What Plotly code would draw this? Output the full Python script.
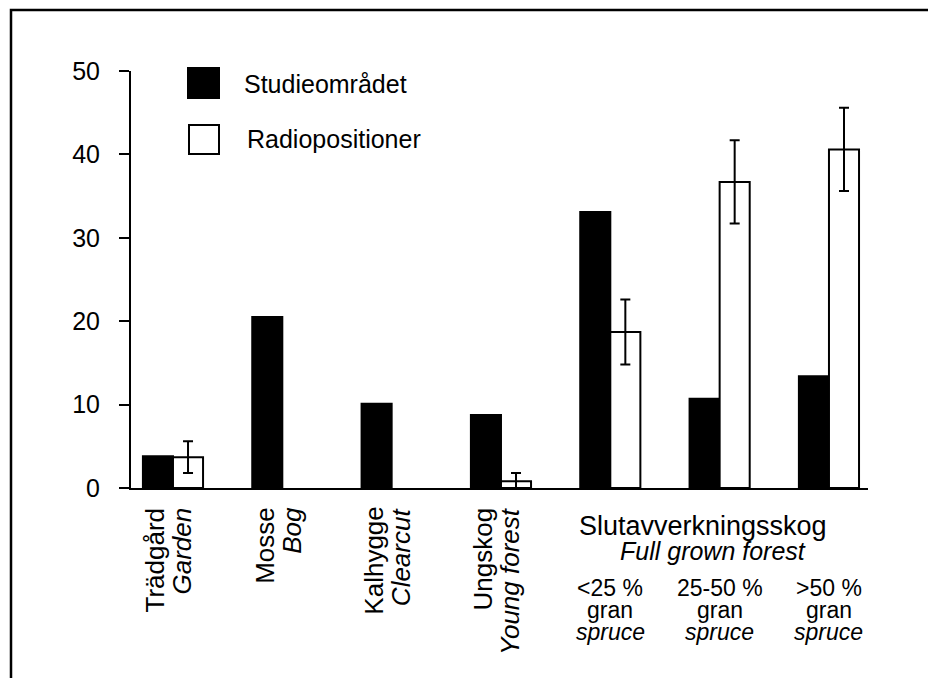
import plotly.graph_objects as go

# ---------------- data ----------------
series_names = ["Studieområdet", "Radiopositioner"]
study_area = [3.8, 20.5, 10.1, 8.75, 33.1, 10.7, 13.4]
radio_pos = [3.7, None, None, 0.8, 18.7, 36.7, 40.6]
radio_err_plus = [1.9, None, None, 1.0, 3.9, 5.0, 5.0]
radio_err_minus = [1.9, None, None, 0.8, 3.9, 5.0, 5.0]

rot_labels_sv = ["Trädgård", "Mosse", "Kalhygge", "Ungskog"]
rot_labels_en = ["Garden", "Bog", "Clearcut", "Young forest"]
forest_header_sv = "Slutavverkningsskog"
forest_header_en = "Full grown forest"
forest_shares = ["<25 %", "25-50 %", ">50 %"]
spruce_sv = "gran"
spruce_en = "spruce"
y_ticks = [0, 10, 20, 30, 40, 50]

x = list(range(len(study_area)))
FONT = "Liberation Sans, Arial, sans-serif"
FS = 25

# page body has an 8 px margin: all pixel targets below are given in screen px
OFF = 8
W, H = 936 - OFF, 678 - OFF
L, T = 131 - OFF, 71 - OFF
R = W - (868 - OFF)
B = H - (488 - OFF)
pw, ph = W - L - R, H - T - B


def px(xs):
    return (xs - OFF - L) / pw


def py(ys):
    return (H - B - (ys - OFF)) / ph


fig = go.Figure()
fig.add_trace(go.Bar(
    x=x, y=study_area, name=series_names[0],
    marker=dict(color="black", line=dict(color="black", width=2)),
))
fig.add_trace(go.Bar(
    x=x, y=radio_pos, name=series_names[1],
    marker=dict(color="white", line=dict(color="black", width=2)),
    error_y=dict(type="data", symmetric=False, array=radio_err_plus,
                 arrayminus=radio_err_minus, color="black", thickness=2, width=5),
))

ann = []
n_rot = len(rot_labels_sv)
for i in range(n_rot):
    ann.append(dict(x=x[i], y=0, xref="x", yref="paper", text=rot_labels_sv[i],
                    textangle=-90, xanchor="center", yanchor="top",
                    xshift=-18, yshift=-17, showarrow=False,
                    font=dict(family=FONT, size=26, color="black")))
    ann.append(dict(x=x[i], y=0, xref="x", yref="paper", text="<i>" + rot_labels_en[i] + "</i>",
                    textangle=-90, xanchor="center", yanchor="top",
                    xshift=9, yshift=-17, showarrow=False,
                    font=dict(family=FONT, size=26, color="black")))

forest_x = x[n_rot:]
mid = forest_x[len(forest_x) // 2]
ann.append(dict(x=mid, y=0, xref="x", yref="paper", text=forest_header_sv,
                xanchor="center", yanchor="middle", xshift=-17, yshift=-(526 - 488),
                showarrow=False, font=dict(family=FONT, size=27, color="black")))
ann.append(dict(x=mid, y=0, xref="x", yref="paper", text="<i>" + forest_header_en + "</i>",
                xanchor="center", yanchor="middle", xshift=-7, yshift=-(551 - 488),
                showarrow=False, font=dict(family=FONT, size=FS, color="black")))
for j, xi in enumerate(forest_x):
    for txt, yc in [(forest_shares[j], 588), (spruce_sv, 610), ("<i>" + spruce_en + "</i>", 632)]:
        ann.append(dict(x=xi, y=0, xref="x", yref="paper", text=txt,
                        xanchor="center", yanchor="middle", yshift=-(yc - 488),
                        showarrow=False, font=dict(family=FONT, size=23, color="black")))

frame_path = "M {:.5f},{:.5f} L {:.5f},{:.5f} L {:.5f},{:.5f}".format(
    px(11), py(700), px(11), py(10), px(936), py(10))

shapes = [
    dict(type="rect", xref="paper", yref="paper", x0=px(188), x1=px(219), y0=py(98), y1=py(68),
         fillcolor="black", line=dict(color="black", width=2)),
    dict(type="rect", xref="paper", yref="paper", x0=px(189), x1=px(219), y0=py(154), y1=py(125),
         fillcolor="white", line=dict(color="black", width=2)),
    # outer frame (top and left edges visible)
    dict(type="path", xref="paper", yref="paper", path=frame_path,
         line=dict(color="black", width=2.5)),
]
ann.append(dict(x=px(242), y=py(84), xref="paper", yref="paper", text=series_names[0],
                xanchor="left", yanchor="middle", showarrow=False,
                font=dict(family=FONT, size=FS, color="black")))
ann.append(dict(x=px(245), y=py(139), xref="paper", yref="paper", text=series_names[1],
                xanchor="left", yanchor="middle", showarrow=False,
                font=dict(family=FONT, size=FS, color="black")))

fig.update_layout(
    width=W, height=H,
    margin=dict(l=L, r=R, t=T, b=B, pad=0),
    paper_bgcolor="white", plot_bgcolor="white",
    barmode="group", bargap=0.45, bargroupgap=0,
    showlegend=False,
    annotations=ann, shapes=shapes,
    font=dict(family=FONT, size=FS, color="black"),
    xaxis=dict(range=[-0.384, 6.357], showline=True, linecolor="black", linewidth=2,
               showticklabels=False, ticks="", showgrid=False, zeroline=False),
    yaxis=dict(range=[0, 50], tickvals=y_ticks, showline=True, linecolor="black", linewidth=2,
               ticks="outside", ticklen=10, tickwidth=2, tickcolor="black",
               ticklabelstandoff=14, showgrid=False, zeroline=False,
               tickfont=dict(family=FONT, size=FS, color="black")),
)

fig.write_html(
    "out.html",
    post_script="document.documentElement.style.overflow='hidden';"
                "document.body.style.overflow='hidden';",
)
